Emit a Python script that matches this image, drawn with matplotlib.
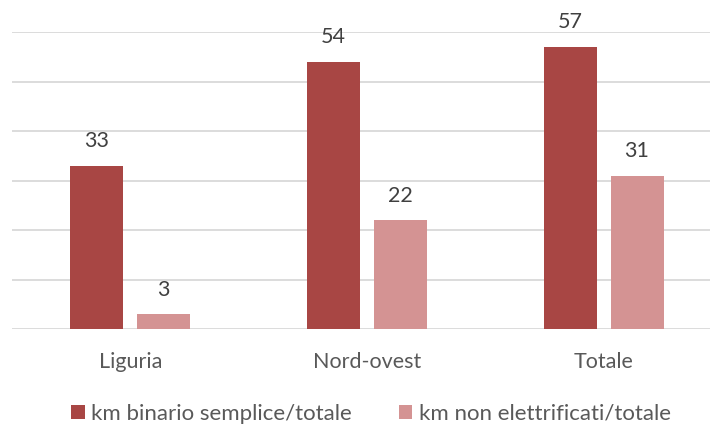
import numpy as np
import matplotlib.pyplot as plt

# data
categories = ['Liguria', 'Nord-ovest', 'Totale']
binario_semplice = [33, 54, 57]
non_elettrificati = [3, 22, 31]
series_names = ['km binario semplice/totale', 'km non elettrificati/totale']

dark = '#A84644'
light = '#D49393'

plt.rcParams['font.family'] = ['Lato', 'DejaVu Sans']

fig = plt.figure(figsize=(7.1, 4.24), dpi=100)
ax = fig.add_axes([12/710, 95/424, 698/710, 297/424])

x = np.arange(len(categories))
w = 0.224
off = 0.1415
b1 = ax.bar(x - off, binario_semplice, w, color=dark, label=series_names[0], zorder=3)
b2 = ax.bar(x + off, non_elettrificati, w, color=light, label=series_names[1], zorder=3)

for bars in (b1, b2):
    for r in bars:
        ax.annotate(str(int(r.get_height())), (r.get_x() + r.get_width()/2, r.get_height()),
                    xytext=(0, 10.5), textcoords='offset points', ha='center', va='bottom',
                    fontsize=15.5, color='#404040')

ax.set_xlim(-0.5, 2.45)
ax.set_ylim(0, 60)
ax.set_yticks(range(0, 61, 10))
ax.yaxis.grid(True, color='#d9d9d9', linewidth=1.3, zorder=0)
ax.tick_params(axis='y', left=False, labelleft=False)
ax.tick_params(axis='x', bottom=False, labelsize=15.5, labelcolor='#595959', pad=13)
ax.set_xticks(x)
ax.set_xticklabels(categories)
for s in ax.spines.values():
    s.set_visible(False)

fig.legend(handles=[b1, b2], labels=series_names, loc='center', bbox_to_anchor=(371/710, 10/424),
           ncol=2, frameon=False, fontsize=16, labelcolor='#595959',
           handlelength=0.6, handleheight=0.6, handletextpad=0.3, columnspacing=2.1)

fig.savefig('out.png', dpi=100)
